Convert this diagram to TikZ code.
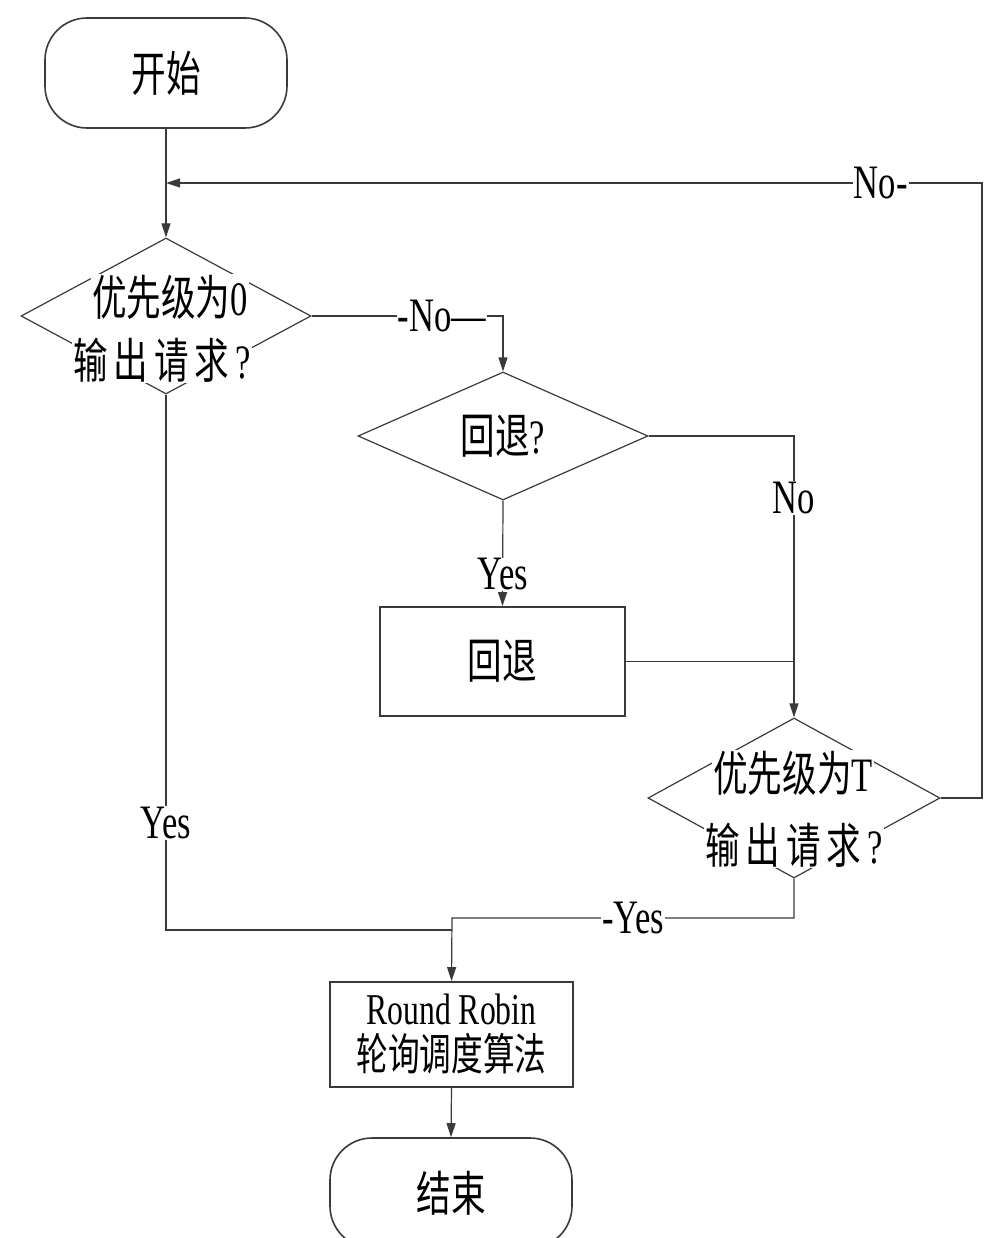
\documentclass[tikz,border=0pt]{standalone}
\usepackage{fontspec}
\setmainfont{Liberation Serif}[FakeStretch=0.72]
\newfontfamily\cjk{Noto Sans CJK SC}[FakeStretch=0.72]
\usepackage{xcolor}
\usepackage{tikz}
\usetikzlibrary{arrows.meta,shapes.geometric}
\definecolor{inkgray}{HTML}{3A3A3A}

\begin{document}
\begin{tikzpicture}[
  x=1pt,y=-1pt,
  font=\fontsize{48}{52}\selectfont,
  term/.style={draw=inkgray,line width=1.6pt,rounded corners=42pt,minimum width=242pt,minimum height=110pt,inner sep=0pt},
  proc/.style={draw=inkgray,line width=1.8pt,minimum width=245pt,minimum height=109pt,inner sep=0pt,align=center},
  test/.style={draw=inkgray,line width=1.2pt,diamond,minimum width=290pt,minimum height=156pt,inner sep=0pt},
  txt/.style={fill=white,inner sep=1pt},
  lbl/.style={fill=white,inner sep=1pt},
  line/.style={draw=inkgray,line width=1.2pt},
  arr/.style={line,-{Triangle[length=14pt,width=9pt]}}
]
\useasboundingbox (0,0) rectangle (983,1238);
% nodes
\node[term] (start) at (166,73) {\cjk 开始};
\node[test] (d1) at (166,316) {};
\node[txt] (d1a) at (170,297) {{\cjk 优先级为}0};
\node[txt] (d1b) at (162,360) {{\cjk 输\kern6pt 出\kern6pt 请\kern6pt 求}\kern6pt ?};
\node[test,minimum height=128pt] (d2) at (503,436) {{\cjk 回退}?};
\node[proc] (back) at (502.5,661.5) {\cjk 回退};
\node[test,minimum width=292pt,minimum height=160pt] (dT) at (794,798) {};
\node[txt] (dTa) at (793,773) {{\cjk 优先级为}T};
\node[txt] (dTb) at (794,845) {{\cjk 输\kern6pt 出\kern6pt 请\kern6pt 求}\kern6pt ?};
\node[proc,minimum width=243pt,minimum height=105pt,font=\fontsize{44}{46}\selectfont] (rr) at (451.5,1034.5) {Round Robin\\{\cjk 轮询调度算法}};
\node[term] (end) at (451,1193) {\cjk 结束};
\coordinate (join) at (166,183);
\coordinate (loop) at (982,183);
\coordinate (mergeL) at (452,930);
\coordinate (mergeR) at (452,918);
% connectors
\draw[arr] (start.south) -- (d1.north);
\draw[arr] (dT.east) -| (loop) -- node[lbl,pos=0.124] {No-} (join);
\draw[arr] (d1.east) -| node[lbl,pos=0.34] {-No—} (d2.north);
\draw[arr] (d2.south) -- node[lbl,pos=0.7] {Yes} (back.north);
\draw[arr] (d2.east) -| node[lbl,pos=0.61] {No} (dT.north);
\draw[line] (back.east) -- (back.east -| dT.north);
\draw[line] (d1.south) |- node[lbl,pos=0.4] {Yes} (mergeL);
\draw[arr] (dT.south) |- node[lbl,pos=0.735] {-Yes} (mergeR) -- (rr.north);
\draw[arr] (rr.south) -- (end.north);
\end{tikzpicture}
\end{document}
